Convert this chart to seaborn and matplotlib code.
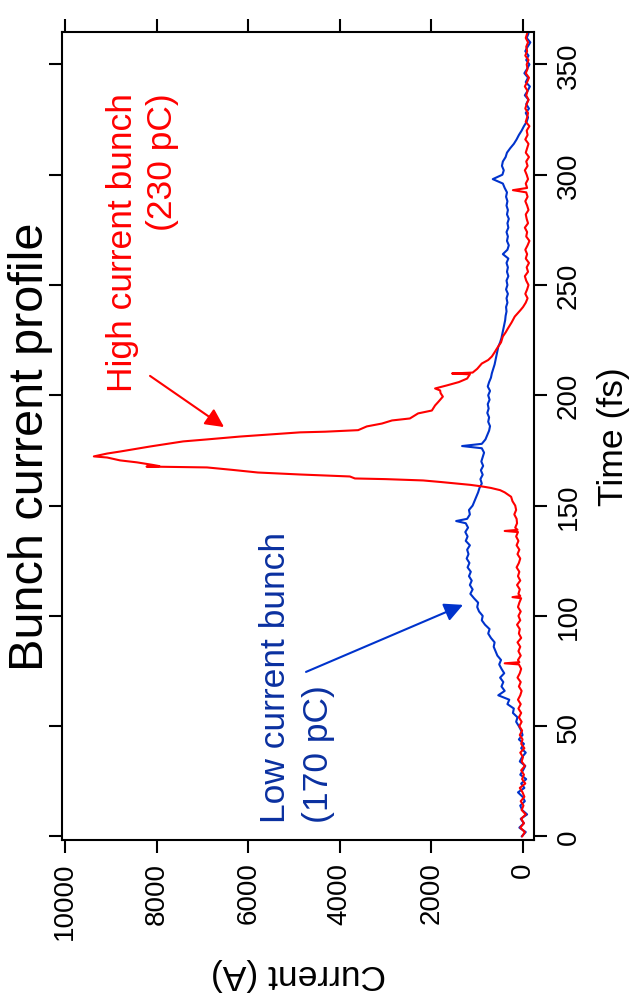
import matplotlib
matplotlib.use("Agg")
import matplotlib.pyplot as plt
from matplotlib import font_manager
import seaborn as sns
import pandas as pd

# ---------------------------------------------------------------------------
# Measured bunch current profiles as (time in fs, current in A) samples
# ---------------------------------------------------------------------------
high_head = [
    (0, 20), (2, -40), (4, 60), (6, -20), (8, 40), (10, -60), (12, 30), (14, -10),
    (16, 50), (18, -30), (20, 10), (22, 70), (24, -50), (26, 20), (28, -20),
    (30, 40), (32, -40), (34, 30), (36, 0), (38, 60), (40, -30), (42, 40),
    (44, 10), (46, 70), (48, 20), (50, 80), (52, 30), (54, 90), (56, 40),
    (58, 100), (60, 50), (62, 110), (64, 60), (66, 30), (68, 90), (70, 50),
    (72, 120), (74, 70), (76, 40), (78, 90), (78.5, 400), (79, 80), (80, 110),
    (82, 50), (84, 100), (86, 60), (88, 120), (90, 40), (92, 90), (94, 70),
    (96, 130), (98, 60), (100, 100), (102, 50), (104, 110), (106, 80), (108, 40),
    (108.5, 230), (109, 60), (110, 100), (112, 70), (114, 130), (116, 60),
    (118, 110), (120, 80), (122, 140), (124, 90), (126, 60), (128, 120),
    (130, 80), (132, 140), (134, 100), (136, 150), (138, 110), (138.5, 400),
    (139, 120), (140, 170), (142, 130), (144, 140), (146, 190), (148, 150),
    (150, 170), (152, 230),
]
high_peak = [
    (154, 260), (155, 330), (156, 400), (157, 500), (158, 700), (158.7, 900),
    (159.4, 1150), (160, 1440), (160.7, 1800), (161.4, 2180), (162, 3000),
    (162.3, 3670), (163.2, 3780), (164.1, 4870), (165, 5790), (166.2, 6350),
    (167.3, 6900), (167.5, 7500), (167.7, 8220), (167.9, 7940), (168.5, 8100),
    (169.6, 8430), (170.5, 8800), (171.8, 9080), (172.3, 9370), (173.6, 9080),
    (174.5, 8800), (176.8, 8140), (179.1, 7420), (180, 6900), (181.3, 6180),
    (183.2, 4870), (183.5, 4320), (184.2, 3600), (185.9, 3410), (187.2, 3080),
    (188.6, 2860), (189.5, 2470), (191.8, 2290), (193.1, 1990), (195.4, 1920),
    (197, 1850), (199.4, 1750), (201, 1800), (202.2, 1810), (203.1, 1920),
    (204.5, 1660), (206, 1400), (207.6, 1220), (209.5, 1160), (209.9, 1550),
    (210.3, 1100), (212, 1000), (214.4, 900), (216, 760), (217.6, 680),
    (219.5, 620), (221.2, 570), (224, 480), (226.7, 440), (228.5, 380),
    (230.3, 330), (233, 250), (235.7, 180), (238.5, 60), (240, 0),
]
high_tail = [
    (242, -60), (244, -100), (246, -50), (248, -90), (250, -120), (252, -70),
    (254, -40), (256, -110), (258, -80), (260, -130), (262, -60), (264, -90),
    (266, -50), (268, -100), (270, -140), (272, -70), (274, -90), (276, -40),
    (278, -110), (280, -80), (282, -60), (284, -120), (286, -90), (288, -50),
    (290, -100), (292, -70), (293, 220), (294, -90), (296, -60), (298, -110),
    (300, -80), (302, -40), (304, -100), (306, -70), (308, -130), (310, -60),
    (312, -90), (314, -120), (316, -50), (318, -100), (320, -80), (322, -140),
    (324, -60), (326, -90), (328, -110), (330, -50), (332, -80), (334, -120),
    (336, -70), (338, -100), (340, -40), (342, -90), (344, -130), (346, -60),
    (348, -100), (350, -80), (352, -120), (354, -50), (356, -90), (358, -70),
    (360, -110), (362, -60), (364, -90),
]

low_head = [
    (0, 30), (2, -60), (4, 80), (6, -20), (8, 50), (10, -90), (12, 20), (14, 60),
    (16, -40), (18, 10), (20, 110), (22, -30), (24, 40), (26, -70), (28, 60),
    (30, 0), (32, -50), (34, 70), (36, 20), (38, -60), (40, 40), (42, -20),
    (44, 90), (46, 10), (48, 40), (50, 90), (52, 150), (54, 120), (56, 220),
    (58, 200), (60, 340), (62, 300), (64, 540), (66, 400), (68, 470), (70, 430),
    (72, 500), (74, 410), (76, 470), (78, 520), (80, 480), (82, 560), (84, 600),
    (86, 640), (88, 620), (90, 700), (92, 760), (94, 730), (96, 830), (98, 900),
    (100, 880), (102, 960), (104, 1000), (106, 980), (108, 1070), (110, 1150),
]
low_body = [
    (112, 1100), (114, 1160), (116, 1120), (118, 1180), (120, 1140),
    (122, 1210), (124, 1170), (126, 1230), (128, 1190), (130, 1220),
    (132, 1160), (134, 1250), (136, 1210), (138, 1260), (140, 1200),
    (142, 1250), (143, 1460), (144, 1220), (146, 1160), (148, 1180),
    (150, 1100), (152, 1060), (154, 1020), (156, 980), (158, 950), (160, 900),
    (162, 930), (164, 880), (166, 920), (168, 870), (170, 910), (172, 880),
    (174, 850), (176, 900), (177, 1330), (178, 900), (180, 820), (182, 780),
    (184, 740), (186, 720), (188, 760), (190, 740), (192, 780), (194, 750),
    (196, 770), (198, 730), (200, 760), (202, 720), (204, 770), (206, 740),
    (208, 700), (210, 680), (212, 650), (214, 620), (216, 600), (218, 580),
    (220, 560), (222, 540), (224, 500), (226, 470), (228, 450), (230, 430),
]
low_tail = [
    (232, 410), (234, 390), (236, 380), (238, 360), (240, 370), (242, 340),
    (244, 360), (246, 330), (248, 370), (250, 340), (252, 360), (254, 320),
    (256, 350), (258, 330), (260, 360), (262, 320), (264, 440), (266, 340),
    (268, 310), (270, 350), (272, 330), (274, 360), (276, 320), (278, 340),
    (280, 310), (282, 350), (284, 330), (286, 360), (288, 340), (290, 370),
    (292, 350), (294, 400), (296, 440), (298, 660), (300, 450), (302, 420),
    (304, 460), (306, 440), (308, 380), (310, 350), (312, 280), (314, 200),
    (316, 140), (318, 90), (320, 30), (322, -20), (324, -80), (326, -110),
    (328, -60), (330, -130), (332, -70), (334, -120), (336, -40), (338, -100),
    (340, -150), (342, -60), (344, -110), (346, -30), (348, -90), (350, -140),
    (352, -70), (354, -120), (356, -50), (358, -100), (360, -160), (362, -80),
    (364, -120),
]

current_ticks = [0, 2000, 4000, 6000, 8000, 10000]
time_ticks = [0, 50, 100, 150, 200, 250, 300, 350]

title_text = "Bunch current profile"
time_label = "Time (fs)"
current_label = "Current (A)"
high_label = "High current bunch\n(230 pC)"
low_label = "Low current bunch\n(170 pC)"

RED = "#ff0000"
BLUE = "#0033cc"
BLUE_TEXT = "#0a30a0"

# ---------------------------------------------------------------------------
sns.set_theme(style="ticks")
available = {f.name for f in font_manager.fontManager.ttflist}
plt.rcParams["font.family"] = ["Liberation Sans", "DejaVu Sans"]
narrow = "Liberation Sans Narrow" in available
title_family = ["Liberation Sans Narrow"] if narrow else ["Liberation Sans"]
title_size = 42 if narrow else 35

W, H = 632, 1004
fig = plt.figure(figsize=(W / 100, H / 100), dpi=100)
fig.patch.set_facecolor("white")
ax = fig.add_axes([62 / W, 1 - 841 / H, (534 - 62) / W, (841 - 33) / H])
ax.set_facecolor("white")


def to_frame(*segments):
    rows = [p for seg in segments for p in seg]
    return pd.DataFrame(rows, columns=["time", "current"])


high_df = to_frame(high_head, high_peak, high_tail)
low_df = to_frame(low_head, low_body, low_tail)

sns.lineplot(data=low_df, x="current", y="time", sort=False, estimator=None,
             color=BLUE, lw=1.5, ax=ax)
sns.lineplot(data=high_df, x="current", y="time", sort=False, estimator=None,
             color=RED, lw=1.5, ax=ax)

ax.set_xlim(10066, -240)
ax.set_ylim(-1.6, 364.7)
ax.set_xlabel("")
ax.set_ylabel("")

for s in ax.spines.values():
    s.set_visible(True)
    s.set_linewidth(1.5)
    s.set_color("black")

ax.set_xticks(current_ticks)
ax.set_xticklabels([str(v) for v in current_ticks])
ax.set_yticks(time_ticks)
ax.set_yticklabels([str(v) for v in time_ticks])

ax.tick_params(axis="x", which="both", direction="out", length=9.5, width=1.5,
               bottom=True, top=True, labelbottom=True, labeltop=False,
               labelsize=20, pad=6, colors="black")
ax.tick_params(axis="y", which="both", direction="out", length=9.5, width=1.5,
               left=True, right=True, labelleft=False, labelright=True,
               labelsize=20, pad=6, colors="black")
for lab in ax.get_xticklabels():
    lab.set_rotation(90)
    lab.set_ha("center")
    lab.set_va("top")
for lab in ax.get_yticklabels():
    lab.set_rotation(90)
    lab.set_ha("left")
    lab.set_va("center")

# Axis labels and title, turned with the plot
fig.text(298 / W, 1 - 975 / H, current_label, rotation=180, ha="center",
         va="center", fontsize=25.5, color="black")
fig.text(613 / W, 1 - 437 / H, time_label, rotation=90, ha="center",
         va="center", fontsize=25.5, color="black")
fig.text(31 / W, 1 - 447 / H, title_text, rotation=90, ha="center",
         va="center", fontsize=title_size, family=title_family, color="black")

# Annotations
ax.text(8308, 337.5, high_label, rotation=90, ha="center", va="top",
        multialignment="right", linespacing=1.27, fontsize=25.5, color=RED)
ax.annotate("", xy=(6528, 185.6), xytext=(8144, 208.8),
            arrowprops=dict(arrowstyle="-|>", color=RED, lw=1.5,
                            mutation_scale=28, shrinkA=0, shrinkB=0))

ax.text(4934, 6.6, low_label, rotation=90, ha="center", va="bottom",
        multialignment="left", linespacing=1.41, fontsize=25.5, color=BLUE_TEXT)
ax.annotate("", xy=(1310, 105), xytext=(4738, 74.6),
            arrowprops=dict(arrowstyle="-|>", color=BLUE, lw=1.5,
                            mutation_scale=28, shrinkA=0, shrinkB=0))

fig.savefig("out.png", dpi=100, facecolor="white")
